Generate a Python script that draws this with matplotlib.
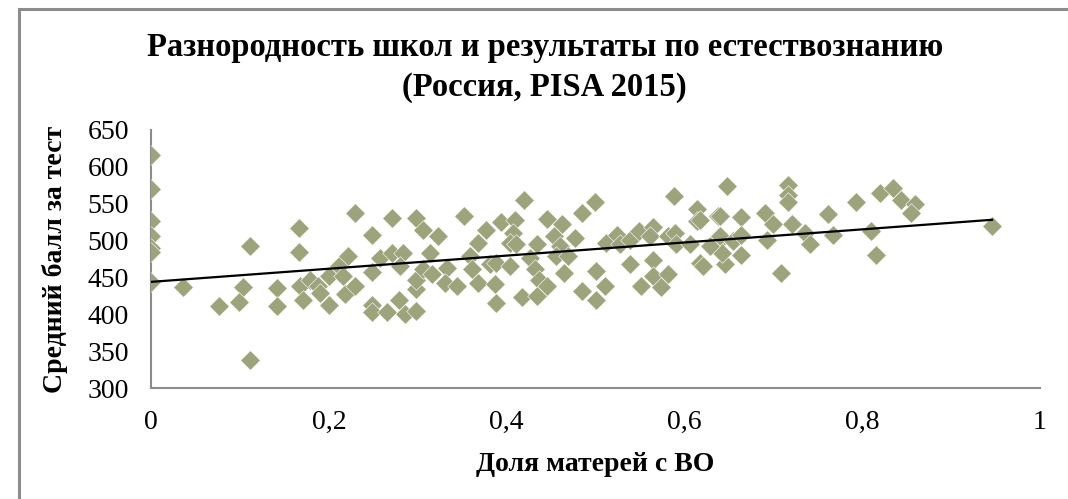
import numpy as np
import matplotlib.pyplot as plt
from matplotlib.patches import Rectangle

# === Data ===
share_mothers_he = [
    0.0, 0.0, 0.0, 0.0, 0.0, 0.0, 0.0,
    0.036, 0.077, 0.111, 0.111, 0.104, 0.099, 0.142, 0.142,
    0.166, 0.166, 0.168, 0.171, 0.179, 0.188, 0.190, 0.200, 0.200,
    0.212, 0.222, 0.216, 0.218, 0.229, 0.229, 0.249, 0.249, 0.249, 0.249,
    0.258, 0.266, 0.271, 0.271, 0.279, 0.284, 0.280, 0.286, 0.298, 0.306,
    0.298, 0.298, 0.298, 0.306,
    0.323, 0.314, 0.316, 0.333, 0.331, 0.344, 0.352, 0.368, 0.359, 0.361,
    0.368, 0.377, 0.381, 0.387, 0.388, 0.394, 0.388, 0.404, 0.409, 0.407,
    0.404, 0.411, 0.417, 0.420, 0.434, 0.426, 0.432, 0.436, 0.445, 0.434,
    0.445, 0.453, 0.462, 0.460, 0.456, 0.464, 0.469, 0.477, 0.485, 0.499,
    0.485, 0.500, 0.500, 0.511, 0.512, 0.524, 0.528, 0.539, 0.539, 0.551,
    0.549, 0.565, 0.561, 0.565, 0.565, 0.574, 0.581, 0.581, 0.589, 0.588,
    0.591, 0.614, 0.614, 0.606, 0.617, 0.621, 0.638, 0.636,
    0.618, 0.640, 0.648, 0.664, 0.691, 0.700, 0.717, 0.717, 0.717, 0.721,
    0.736, 0.741, 0.762, 0.767, 0.793, 0.810, 0.815, 0.820, 0.835, 0.844,
    0.859, 0.855, 0.946, 0.709, 0.640, 0.655, 0.664, 0.664, 0.646, 0.642,
    0.693, 0.629,
]
mean_score = [
    616, 570, 527, 506, 490, 484, 444,
    437, 411, 493, 338, 437, 417, 435, 411,
    517, 485, 439, 420, 447, 438, 429, 412, 452,
    465, 479, 452, 427, 438, 537, 507, 457, 413, 403,
    477, 403, 531, 483, 419, 483, 465, 400, 531, 515,
    404, 434, 447, 461,
    506, 483, 454, 463, 443, 438, 534, 497, 479, 461,
    443, 515, 468, 441, 415, 525, 470, 465, 528, 510,
    497, 495, 423, 555, 495, 477, 461, 447, 438, 425,
    529, 506, 522, 492, 479, 456, 479, 504, 538, 552,
    431, 420, 459, 438, 497, 508, 495, 501, 468, 438,
    513, 519, 506, 474, 452, 437, 454, 506, 510, 560,
    495, 543, 526, 495, 470, 465, 533, 495,
    528, 533, 574, 532, 538, 523, 576, 562, 552, 523,
    510, 495, 536, 508, 552, 513, 481, 565, 571, 555,
    550, 537, 520, 456, 506, 499, 508, 481, 468, 483,
    501, 492,
]

# linear trend as drawn in the chart
trend_intercept = 444
trend_slope = 89

x_ticks = [0, 0.2, 0.4, 0.6, 0.8, 1]
x_tick_labels = ["0", "0,2", "0,4", "0,6", "0,8", "1"]
y_ticks = [300, 350, 400, 450, 500, 550, 600, 650]

title = "Разнородность школ и результаты по естествознанию\n(Россия, PISA 2015)"
x_label = "Доля матерей с ВО"
y_label = "Средний балл за тест"

plt.rcParams['font.family'] = ['Liberation Serif', 'DejaVu Serif']

fig = plt.figure(figsize=(10.68, 4.99), dpi=100)
ax = fig.add_axes([0.1414, 0.2224, 0.8324, 0.5171])

# outer chart frame
fig.patches.append(Rectangle((19 / 1068, -0.1), 1.2, (499 - 9) / 499 + 0.1,
                             transform=fig.transFigure, fill=False,
                             edgecolor='#8c8c8c', linewidth=2.2))

ax.scatter(share_mothers_he, mean_score, marker='D', s=100,
           color='#9da47c', edgecolors='white', linewidths=0.4, zorder=3)

xs = np.array([0, max(share_mothers_he)])
ax.plot(xs, trend_intercept + trend_slope * xs, color='black', linewidth=1.6, zorder=4)

ax.set_xlim(0, 1)
ax.set_ylim(300, 650)
ax.set_xticks(x_ticks)
ax.set_xticklabels(x_tick_labels)
ax.set_yticks(y_ticks)
ax.tick_params(axis='both', length=0, labelsize=20)
ax.tick_params(axis='x', pad=16)
ax.tick_params(axis='y', pad=16)

for side in ['top', 'right']:
    ax.spines[side].set_visible(False)
for side in ['left', 'bottom']:
    ax.spines[side].set_color('#8c8c8c')
    ax.spines[side].set_linewidth(1.5)

ax.set_xlabel(x_label, fontsize=20, fontweight='bold', labelpad=12)
ax.set_ylabel(y_label, fontsize=20, fontweight='bold', labelpad=14)
fig.text(0.510, 0.935, title, ha='center', va='top', fontsize=23.5,
         fontweight='bold', linespacing=1.35)

plt.savefig('out.png', dpi=100)
